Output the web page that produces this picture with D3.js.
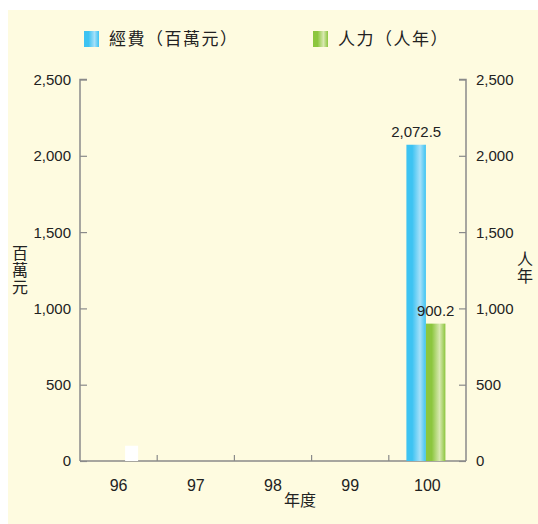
<!DOCTYPE html>
<html><head><meta charset="utf-8">
<script src="https://cdn.jsdelivr.net/npm/d3@7"></script>
<style>
html,body{margin:0;padding:0;background:#fff;}
svg{display:block;}
text{font-family:"Liberation Sans",Arial,"Noto Sans CJK TC",sans-serif;fill:#222;}
.cjk{font-family:"Noto Sans CJK TC","Noto Sans CJK SC",sans-serif;}
.vert{writing-mode:vertical-rl;text-orientation:upright;}
</style></head>
<body>
<svg id="c" width="538" height="524"></svg>
<script>
const years = ["96","97","98","99","100"];
const funding = [0,0,0,0,2072.5];     // 經費（百萬元）
const manpower = [0,0,0,0,900.2];     // 人力（人年）
const leftTicks = [0,500,1000,1500,2000,2500];
const rightTicks = [0,500,1000,1500,2000,2500];
const seriesNames = ["經費（百萬元）","人力（人年）"];
const leftTitle = "百萬元";
const rightTitle = "人年";
const xTitle = "年度";
const maskYears = ["96"];
const maskValues = [100];

const svg = d3.select("#c");
const W = 538, H = 524;
const m = {l:80, r:72, t:79.5, b:63};
const x0 = m.l, x1 = W - m.r, y0 = H - m.b, y1 = m.t;

svg.append("rect").attr("x",8).attr("y",10).attr("width",W-8).attr("height",H-10).attr("fill","#FEFBE0");

const defs = svg.append("defs");
function grad(id, dark, light){
  const g = defs.append("linearGradient").attr("id",id).attr("x1","0%").attr("x2","100%").attr("y1","0%").attr("y2","0%");
  g.append("stop").attr("offset","0%").attr("stop-color",dark);
  g.append("stop").attr("offset","30%").attr("stop-color",dark);
  g.append("stop").attr("offset","70%").attr("stop-color",light);
  g.append("stop").attr("offset","100%").attr("stop-color",dark);
}
grad("gBlue","#3DC3F2","#A5E0F9");
grad("gGreen","#8CC63E","#D8E8B0");

const x = d3.scaleBand().domain(years).range([x0,x1]);
const yL = d3.scaleLinear().domain([0,2500]).range([y0,y1]);
const yR = d3.scaleLinear().domain([0,2500]).range([y0,y1]);
const bw = 19.5;

// axes
const axisColor = "#8a8a8a";
const gL = svg.append("g").attr("transform",`translate(${x0},0)`)
  .call(d3.axisRight(yL).tickValues(leftTicks).tickSize(7).tickFormat(""));
const gR = svg.append("g").attr("transform",`translate(${x1},0)`)
  .call(d3.axisLeft(yR).tickValues(rightTicks).tickSize(7).tickFormat(""));
[gL,gR].forEach(g=>{g.select(".domain").attr("stroke",axisColor).attr("stroke-width",1.5);
  g.selectAll(".tick line").attr("stroke",axisColor).attr("stroke-width",1.2);});
gL.select(".domain").attr("d",`M7,${y1}H0V${y0}`);
gR.select(".domain").attr("d",`M-7,${y1}H0V${y0}`);

svg.selectAll(".ll").data(leftTicks).join("text")
  .attr("x",x0-9).attr("y",d=>yL(d)).attr("dy","0.36em").attr("text-anchor","end")
  .attr("font-size",15).text(d=>d3.format(",")(d));
svg.selectAll(".rl").data(rightTicks).join("text")
  .attr("x",x1+10).attr("y",d=>yR(d)).attr("dy","0.36em").attr("text-anchor","start")
  .attr("font-size",15).text(d=>d3.format(",")(d));

// x axis
const boundaries = years.slice(1).map(d=>x(d));
svg.append("line").attr("x1",x0).attr("x2",x1).attr("y1",y0).attr("y2",y0).attr("stroke",axisColor).attr("stroke-width",1.5);
svg.selectAll(".xt").data(boundaries).join("line")
  .attr("x1",d=>d).attr("x2",d=>d).attr("y1",y0).attr("y2",y0-6).attr("stroke",axisColor).attr("stroke-width",1.2);
svg.selectAll(".xl").data(years).join("text")
  .attr("x",d=>x(d)+x.bandwidth()/2).attr("y",y0+24).attr("dy","0.36em").attr("text-anchor","middle")
  .attr("font-size",16).text(d=>d);

// mask
svg.selectAll(".mask").data(maskYears).join("rect")
  .attr("x",(d)=>x(d)+x.bandwidth()/2+6.5).attr("width",13)
  .attr("y",(d,i)=>yL(maskValues[i])).attr("height",(d,i)=>y0-yL(maskValues[i])).attr("fill","#ffffff");

// bars
const cx = d=>x(d)+x.bandwidth()/2-1.5;
svg.selectAll(".b1").data(years).join("rect")
  .attr("x",d=>cx(d)-bw).attr("width",bw)
  .attr("y",(d,i)=>yL(funding[i])).attr("height",(d,i)=>y0-yL(funding[i]))
  .attr("fill","url(#gBlue)");
svg.selectAll(".b2").data(years).join("rect")
  .attr("x",d=>cx(d)).attr("width",bw)
  .attr("y",(d,i)=>yR(manpower[i])).attr("height",(d,i)=>y0-yR(manpower[i]))
  .attr("fill","url(#gGreen)");

const fmt = d3.format(",.1f");
svg.selectAll(".v1").data(years.filter((d,i)=>funding[i]>0)).join("text")
  .attr("x",d=>cx(d)-bw/2).attr("y",d=>yL(funding[years.indexOf(d)])-8)
  .attr("text-anchor","middle").attr("font-size",15).text(d=>fmt(funding[years.indexOf(d)]));
svg.selectAll(".v2").data(years.filter((d,i)=>manpower[i]>0)).join("text")
  .attr("x",d=>cx(d)+bw/2).attr("y",d=>yR(manpower[years.indexOf(d)])-8)
  .attr("text-anchor","middle").attr("font-size",15).text(d=>fmt(manpower[years.indexOf(d)]));

// axis titles
svg.append("text").attr("class","cjk").attr("x",300).attr("y",506).attr("text-anchor","middle").attr("font-size",16).text(xTitle);
svg.append("text").attr("class","cjk vert").attr("x",20).attr("y",270).attr("text-anchor","middle")
  .attr("font-size",16).attr("letter-spacing","1").text(leftTitle);
svg.append("text").attr("class","cjk vert").attr("x",525).attr("y",268).attr("text-anchor","middle")
  .attr("font-size",16).attr("letter-spacing","1").text(rightTitle);

// legend
const lg = [{x:84,fill:"url(#gBlue)"},{x:313,fill:"url(#gGreen)"}];
lg.forEach((l,i)=>{
  svg.append("rect").attr("x",l.x).attr("y",31).attr("width",15).attr("height",16).attr("fill",l.fill);
  svg.append("text").attr("class","cjk").attr("x",l.x+25).attr("y",45).attr("font-size",17)
    .attr("letter-spacing","1.5").text(seriesNames[i]);
});
</script>
</body></html>
